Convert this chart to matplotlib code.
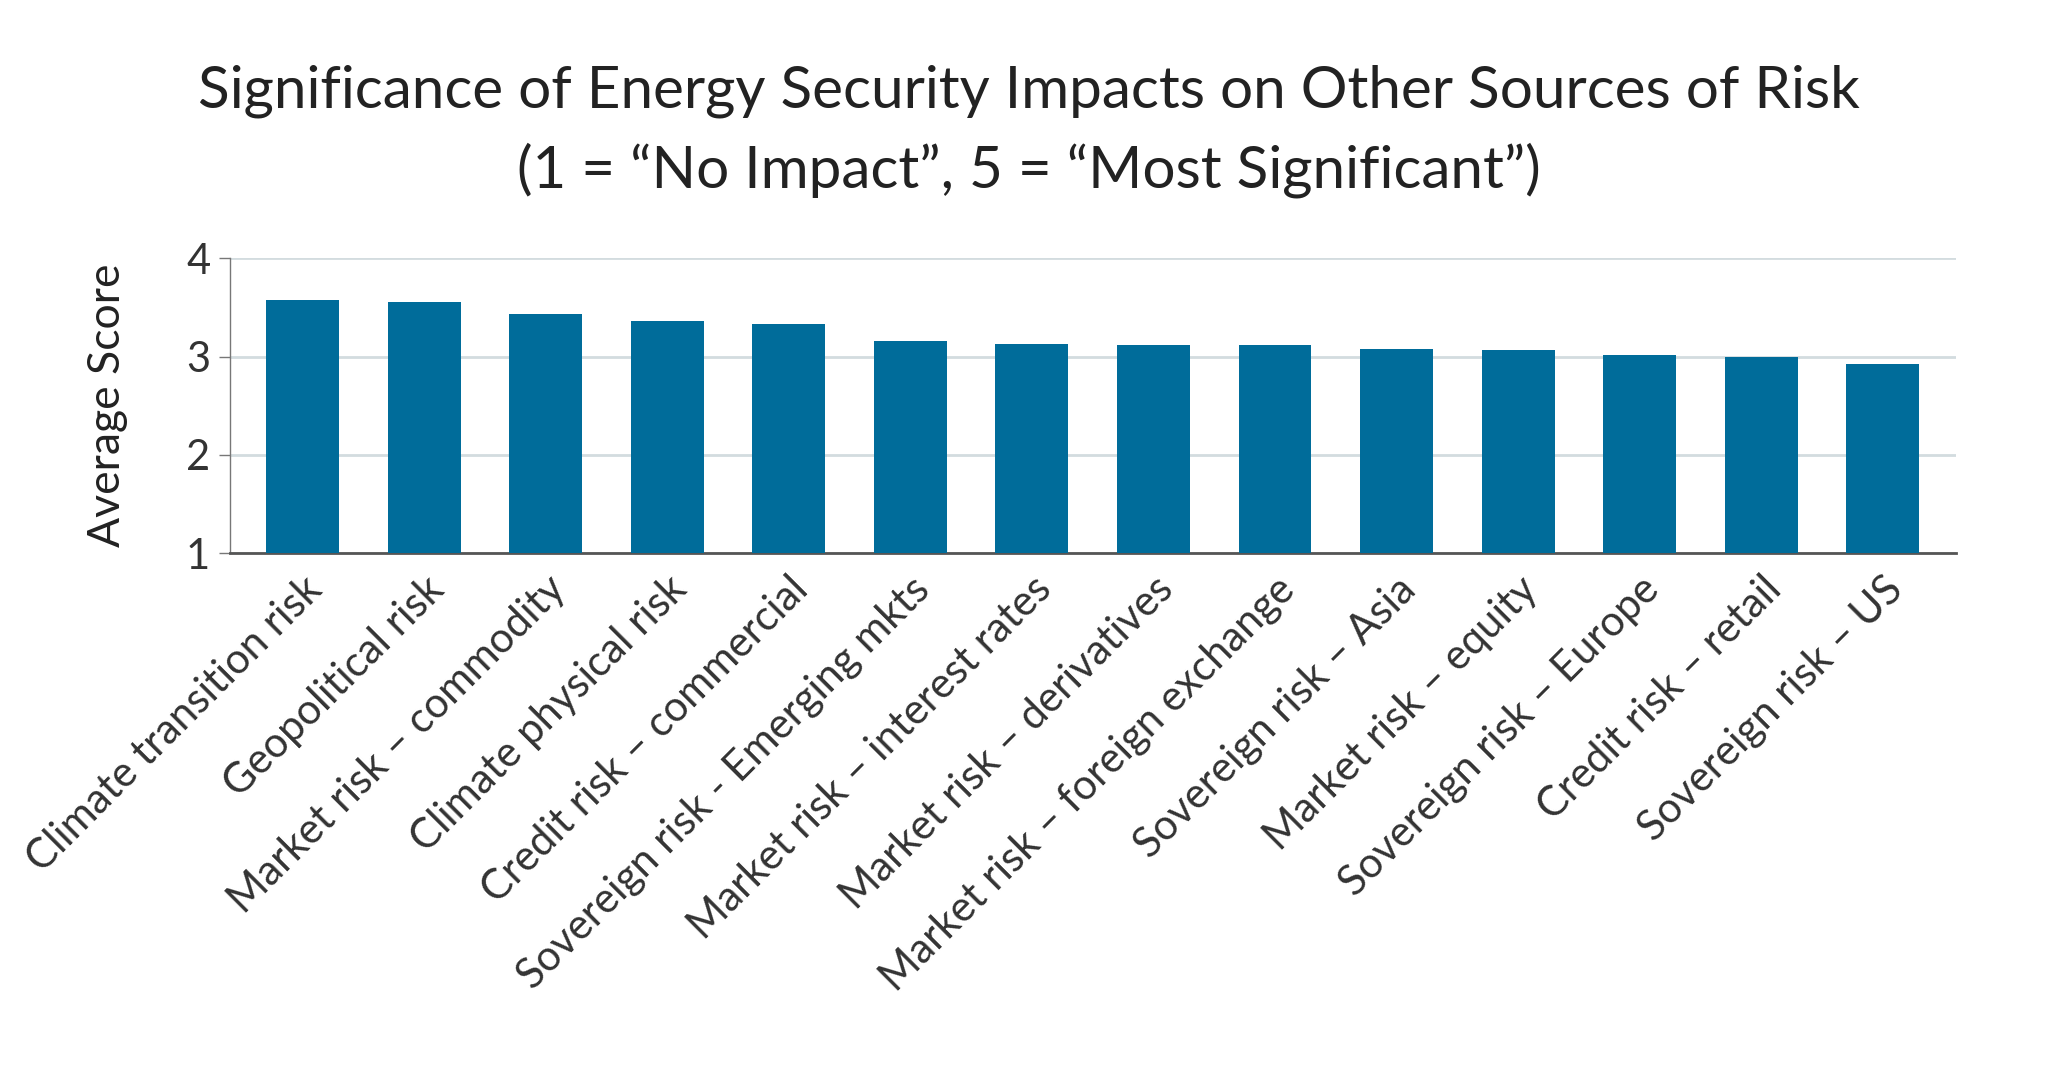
import matplotlib
matplotlib.use('Agg')
import matplotlib.pyplot as plt

plt.rcParams['font.family'] = ['Lato', 'DejaVu Sans']

categories = [
    'Climate transition risk',
    'Geopolitical risk',
    'Market risk – commodity',
    'Climate physical risk',
    'Credit risk – commercial',
    'Sovereign risk - Emerging mkts',
    'Market risk – interest rates',
    'Market risk – derivatives',
    'Market risk – foreign exchange',
    'Sovereign risk – Asia',
    'Market risk – equity',
    'Sovereign risk – Europe',
    'Credit risk – retail',
    'Sovereign risk – US',
]
scores = [3.57, 3.55, 3.43, 3.36, 3.33, 3.16, 3.13, 3.12, 3.12, 3.08, 3.07, 3.02, 3.00, 2.92]
yticks = [1, 2, 3, 4]

fig = plt.figure(figsize=(20.5, 10.76), dpi=100)
ax = fig.add_axes([0.112, 0.486, 0.842, 0.274])

x = range(len(categories))
ax.bar(x, [s - 1 for s in scores], bottom=1, width=0.6, color='#006c9a', zorder=3)

ax.set_xlim(-0.6, len(categories) - 0.4)
ax.set_ylim(1, 4)
ax.set_yticks(yticks)
ax.set_yticklabels([str(t) for t in yticks], fontsize=30, color='#333333')
ax.grid(axis='y', color='#d3dcdf', linewidth=2, zorder=0)
ax.set_axisbelow(True)

for s in ['top', 'right']:
    ax.spines[s].set_visible(False)
ax.spines['left'].set_color('#777777')
ax.spines['left'].set_linewidth(1)
ax.spines['bottom'].set_color('#555555')
ax.spines['bottom'].set_linewidth(2)
ax.tick_params(axis='y', length=8, width=1, color='#777777', pad=6)
ax.tick_params(axis='x', length=0, pad=12)

ax.set_xticks(list(x))
ax.set_xticklabels(categories, rotation=45, ha='right', va='top',
                   rotation_mode='anchor', fontsize=30, color='#333333')

ax.set_ylabel('Average Score', fontsize=32, color='#222222', labelpad=42)

fig.text(0.502, 0.915, 'Significance of Energy Security Impacts on Other Sources of Risk',
         ha='center', va='center', fontsize=42, color='#222222')
fig.text(0.502, 0.842, '(1 = “No Impact”, 5 = “Most Significant”)',
         ha='center', va='center', fontsize=42, color='#222222')

fig.savefig('out.png', dpi=100, facecolor='white')
